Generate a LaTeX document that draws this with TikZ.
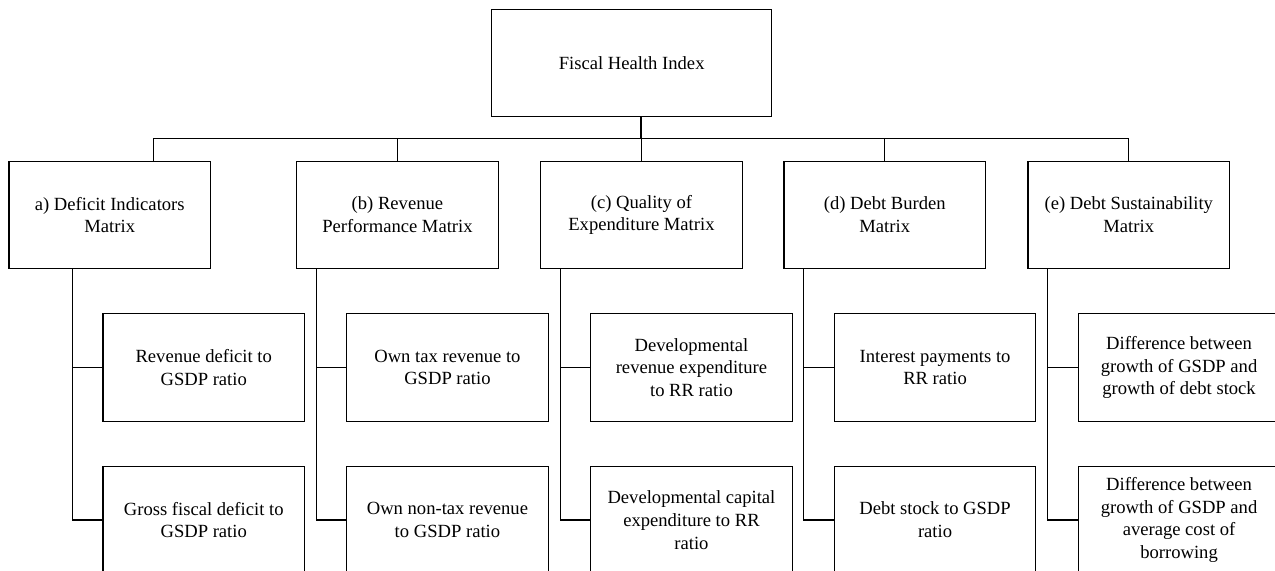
\documentclass[tikz,border=0pt]{standalone}
\usepackage{fontspec}
\setmainfont{Liberation Serif}

\tikzset{
  box/.style={draw,rectangle,line width=0.55pt,align=center,inner sep=0pt,
    minimum width=100.75pt,minimum height=53.6pt,
    font=\fontsize{9.3}{11.4}\selectfont},
  link/.style={line width=0.65pt}
}

\begin{document}
\begin{tikzpicture}[x=0.5pt,y=-0.5pt]
  \useasboundingbox (0,0) rectangle (1275,571);
  \clip (0,0) rectangle (1275,571);

  % index
  \node[box,minimum width=140pt] (fhi) at (631.7,63) {Fiscal Health Index};

  % matrices
  \node[box] (a) at (109.75,215) {a) Deficit Indicators\\Matrix};
  \node[box] (b) at (397.45,215) {(b) Revenue\\Performance Matrix};
  \node[box] (c) at (641.45,215) {(c) Quality of\\Expenditure Matrix};
  \node[box] (d) at (884.75,215) {(d) Debt Burden\\Matrix};
  \node[box] (e) at (1128.75,215) {(e) Debt Sustainability\\Matrix};

  % indicators
  \node[box] (a1) at (203.75,367.5) {Revenue deficit to\\GSDP ratio};
  \node[box] (a2) at (203.75,520) {Gross fiscal deficit to\\GSDP ratio};
  \node[box] (b1) at (447.45,367.5) {Own tax revenue to\\GSDP ratio};
  \node[box] (b2) at (447.45,520) {Own non-tax revenue\\to GSDP ratio};
  \node[box] (c1) at (691.45,367.5) {Developmental\\revenue expenditure\\to RR ratio};
  \node[box] (c2) at (691.45,520) {Developmental capital\\expenditure to RR\\ratio};
  \node[box] (d1) at (935.05,367.5) {Interest payments to\\RR ratio};
  \node[box] (d2) at (935.05,520) {Debt stock to GSDP\\ratio};
  \node[box] (e1) at (1179.05,367.5) {Difference between\\growth of GSDP and\\growth of debt stock};
  \node[box] (e2) at (1179.05,520) {Difference between\\growth of GSDP and\\average cost of\\borrowing};

  % bus
  \coordinate (busL) at (153.3,138.3);
  \draw[line width=1pt] (fhi.south -| c.north) -- (busL -| c.north);
  \draw[link] (busL |- a.north) -- (busL) -- (busL -| e.north) -- (e.north);
  \foreach \n in {b,c,d}
    \draw[link] (busL -| \n.north) -- (\n.north);

  % branches
  \foreach \n in {a,b,c,d,e} {
    \path ([xshift=-15pt]\n1.west) coordinate (t\n);
    \draw[link] (t\n |- \n.south) -- (t\n |- \n2.west) -- (\n2.west);
    \draw[link] (t\n) -- (\n1.west);
  }
\end{tikzpicture}
\end{document}
